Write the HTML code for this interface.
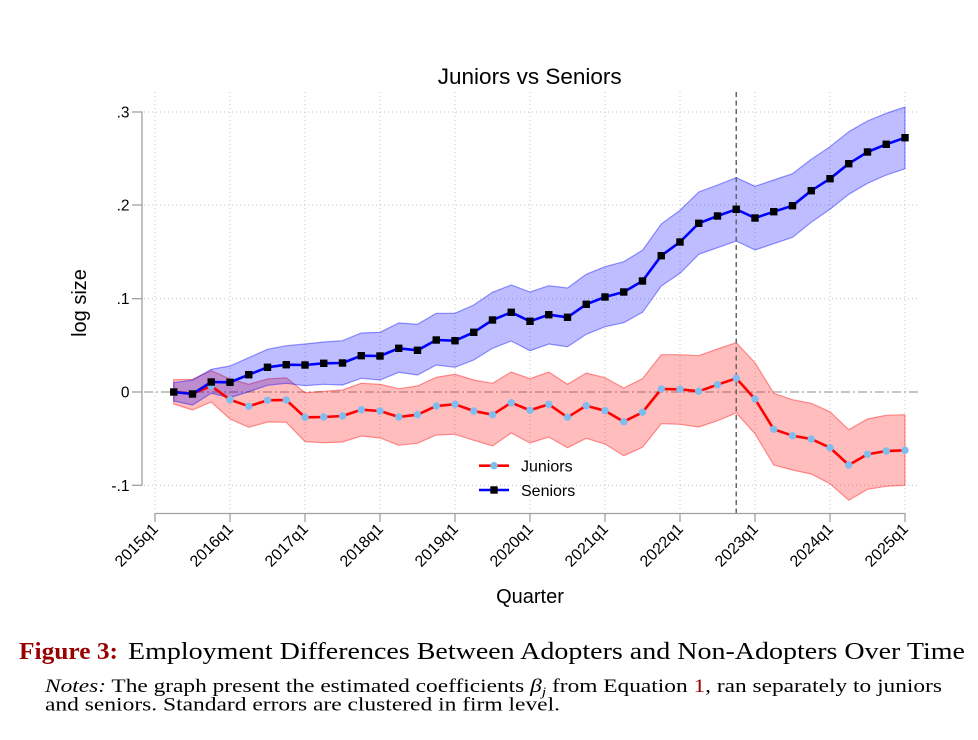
<!DOCTYPE html>
<html><head><meta charset="utf-8"><style>
html,body{margin:0;padding:0;background:#fff;}
svg{display:block;}
</style></head><body>
<svg width="978" height="740" viewBox="0 0 978 740" xmlns="http://www.w3.org/2000/svg">
<defs>
<marker id="mc" markerUnits="userSpaceOnUse" markerWidth="10" markerHeight="10" refX="5" refY="5"><circle cx="5" cy="5" r="3.7" fill="#7fbdee"/></marker>
<marker id="ms" markerUnits="userSpaceOnUse" markerWidth="10" markerHeight="10" refX="5" refY="5"><rect x="1.3" y="1.3" width="7.4" height="7.4" fill="#000"/></marker>
</defs>
<rect width="978" height="740" fill="#fff"/>
<g stroke="#c4c4c4" stroke-width="1" stroke-dasharray="1 3" fill="none">
<line x1="144" y1="112" x2="919" y2="112"/>
<line x1="144" y1="205" x2="919" y2="205"/>
<line x1="144" y1="298.7" x2="919" y2="298.7"/>
<line x1="144" y1="485.3" x2="919" y2="485.3"/>
<line x1="155" y1="92" x2="155" y2="512"/>
<line x1="230" y1="92" x2="230" y2="512"/>
<line x1="305" y1="92" x2="305" y2="512"/>
<line x1="380" y1="92" x2="380" y2="512"/>
<line x1="455" y1="92" x2="455" y2="512"/>
<line x1="530" y1="92" x2="530" y2="512"/>
<line x1="605" y1="92" x2="605" y2="512"/>
<line x1="680" y1="92" x2="680" y2="512"/>
<line x1="755" y1="92" x2="755" y2="512"/>
<line x1="830" y1="92" x2="830" y2="512"/>
<line x1="905" y1="92" x2="905" y2="512"/>
</g>
<line x1="144" y1="392" x2="919" y2="392" stroke="#b4b4b4" stroke-width="1.4" stroke-dasharray="9 3 2 3"/>
<polygon fill="rgba(255,0,0,0.26)" stroke="rgba(255,0,0,0.4)" stroke-width="1.2" points="173.75,379.7 192.5,379.3 211.25,370.7 230,379 248.75,384.3 267.5,379 286.25,377.7 305,392.7 323.75,391.3 342.5,390 361.25,383.3 380,384.3 398.75,388.7 417.5,386 436.25,377.3 455,374.3 473.75,380 492.5,383.3 511.25,372 530,378.7 548.75,372 567.5,384.3 586.25,373 605,377.7 623.75,388 642.5,378.7 661.25,354.7 680,354.7 698.75,355.7 717.5,349 736.25,342.7 755,362.7 773.75,393.3 792.5,399.7 811.25,403.3 830,411.7 848.75,429.7 867.5,419 886.25,415.3 905,414.7 905,485.3 886.25,486.3 867.5,489.3 848.75,500.3 830,483.7 811.25,474 792.5,470 773.75,465 755,433.7 736.25,413 717.5,420.7 698.75,427 680,424.3 661.25,423.7 642.5,447.3 623.75,455.7 605,444 586.25,438.3 567.5,447.7 548.75,437 530,443 511.25,433 492.5,446 473.75,440.3 455,434.3 436.25,435 417.5,443.3 398.75,445.3 380,438 361.25,436 342.5,442 323.75,442.7 305,441.7 286.25,422.3 267.5,422 248.75,427.3 230,419 211.25,402 192.5,410 173.75,404"/>
<polygon fill="rgba(0,0,255,0.26)" stroke="rgba(0,0,255,0.4)" stroke-width="1.2" points="173.75,382.7 192.5,380 211.25,369.3 230,366 248.75,357.7 267.5,349.3 286.25,345.7 305,344 323.75,342 342.5,340.7 361.25,333 380,332.3 398.75,323 417.5,324.3 436.25,313.3 455,313.3 473.75,305 492.5,292.3 511.25,285 530,292 548.75,285.7 567.5,288 586.25,274.3 605,266.7 623.75,261.7 642.5,250.3 661.25,224 680,210.3 698.75,192 717.5,185 736.25,177.7 755,186.3 773.75,180 792.5,173.7 811.25,159.3 830,146.7 848.75,131.7 867.5,121 886.25,113.3 905,107 905,168.7 886.25,175 867.5,183.3 848.75,194.3 830,209.3 811.25,222.3 792.5,237.3 773.75,243.7 755,250 736.25,241 717.5,247.7 698.75,254.3 680,273.3 661.25,286 642.5,312.3 623.75,322.7 605,326.7 586.25,334.3 567.5,346.7 548.75,344 530,350.7 511.25,341 492.5,348.3 473.75,360 455,367.3 436.25,365 417.5,375 398.75,372.3 380,380 361.25,378.3 342.5,385 323.75,384.3 305,385.7 286.25,383.3 267.5,385.3 248.75,391.7 230,397.7 211.25,393.3 192.5,405 173.75,401"/>
<line x1="736.25" y1="92" x2="736.25" y2="513" stroke="#666" stroke-width="1.5" stroke-dasharray="5 3.5"/>
<polyline fill="none" stroke="#ff0000" stroke-width="2.6" stroke-linejoin="round" marker-start="url(#mc)" marker-mid="url(#mc)" marker-end="url(#mc)" points="173.75,392 192.5,393.7 211.25,386 230,399.7 248.75,406.3 267.5,400.3 286.25,400 305,417.3 323.75,417 342.5,416 361.25,409.7 380,411 398.75,417 417.5,414.7 436.25,406 455,404.3 473.75,411 492.5,414.7 511.25,402.7 530,410.3 548.75,404.3 567.5,417.3 586.25,405.7 605,410.7 623.75,421.7 642.5,412.3 661.25,389 680,389.3 698.75,391.3 717.5,384.7 736.25,378.3 755,399 773.75,429.3 792.5,435.7 811.25,439 830,447.7 848.75,465 867.5,454.3 886.25,451 905,450.3"/>
<polyline fill="none" stroke="#0000ff" stroke-width="2.6" stroke-linejoin="round" marker-start="url(#ms)" marker-mid="url(#ms)" marker-end="url(#ms)" points="173.75,392 192.5,394 211.25,382 230,382.3 248.75,374.7 267.5,367.3 286.25,364.7 305,365 323.75,363.3 342.5,363 361.25,355.7 380,356 398.75,348.3 417.5,350.3 436.25,340 455,340.7 473.75,332.3 492.5,320 511.25,312.3 530,321.3 548.75,314.7 567.5,317.3 586.25,304.3 605,297 623.75,292 642.5,281 661.25,255.7 680,242 698.75,223.3 717.5,216 736.25,209.3 755,218 773.75,211.7 792.5,205.7 811.25,190.7 830,178.7 848.75,163.7 867.5,152 886.25,144.3 905,137.7"/>
<g stroke="#a0a0a0" stroke-width="1.3" fill="none">
<line x1="142" y1="111.5" x2="142" y2="485.8"/>
<line x1="132" y1="112" x2="142" y2="112"/>
<line x1="132" y1="205" x2="142" y2="205"/>
<line x1="132" y1="298.7" x2="142" y2="298.7"/>
<line x1="132" y1="392" x2="142" y2="392"/>
<line x1="132" y1="485.3" x2="142" y2="485.3"/>
<line x1="154.5" y1="513.5" x2="905.5" y2="513.5"/>
<line x1="155" y1="513.5" x2="155" y2="522"/>
<line x1="230" y1="513.5" x2="230" y2="522"/>
<line x1="305" y1="513.5" x2="305" y2="522"/>
<line x1="380" y1="513.5" x2="380" y2="522"/>
<line x1="455" y1="513.5" x2="455" y2="522"/>
<line x1="530" y1="513.5" x2="530" y2="522"/>
<line x1="605" y1="513.5" x2="605" y2="522"/>
<line x1="680" y1="513.5" x2="680" y2="522"/>
<line x1="755" y1="513.5" x2="755" y2="522"/>
<line x1="830" y1="513.5" x2="830" y2="522"/>
<line x1="905" y1="513.5" x2="905" y2="522"/>
</g>
<g font-family="'Liberation Sans', Arial, sans-serif" fill="#000">
<text x="529.7" y="84" font-size="22.5" text-anchor="middle">Juniors vs Seniors</text>
<g font-size="15.5" text-anchor="end">
<text x="129.5" y="117.5">.3</text>
<text x="129.5" y="210.5">.2</text>
<text x="129.5" y="304.2">.1</text>
<text x="129.5" y="397.5">0</text>
<text x="129.5" y="490.8">-.1</text>
</g>
<g font-size="16" text-anchor="end">
<text transform="translate(159,530) rotate(-45)">2015q1</text>
<text transform="translate(234,530) rotate(-45)">2016q1</text>
<text transform="translate(309,530) rotate(-45)">2017q1</text>
<text transform="translate(384,530) rotate(-45)">2018q1</text>
<text transform="translate(459,530) rotate(-45)">2019q1</text>
<text transform="translate(534,530) rotate(-45)">2020q1</text>
<text transform="translate(609,530) rotate(-45)">2021q1</text>
<text transform="translate(684,530) rotate(-45)">2022q1</text>
<text transform="translate(759,530) rotate(-45)">2023q1</text>
<text transform="translate(834,530) rotate(-45)">2024q1</text>
<text transform="translate(909,530) rotate(-45)">2025q1</text>
</g>
<text x="530" y="603" font-size="20" text-anchor="middle">Quarter</text>
<text transform="translate(86,303) rotate(-90)" font-size="20" text-anchor="middle">log size</text>
<line x1="479" y1="465.7" x2="509" y2="465.7" stroke="#ff0000" stroke-width="2.6"/>
<circle cx="494" cy="465.7" r="3.7" fill="#7fbdee"/>
<text x="521" y="471.5" font-size="16">Juniors</text>
<line x1="479" y1="490" x2="509" y2="490" stroke="#0000ff" stroke-width="2.6"/>
<rect x="490.3" y="486.3" width="7.4" height="7.4" fill="#000"/>
<text x="521" y="496" font-size="16">Seniors</text>
</g>
<g font-family="'Liberation Serif', 'Times New Roman', serif">
<text x="19" y="659" font-size="24" font-weight="bold" fill="#990000" textLength="99" lengthAdjust="spacingAndGlyphs">Figure 3:</text>
<text x="128" y="659" font-size="24" fill="#000" textLength="837" lengthAdjust="spacingAndGlyphs">Employment Differences Between Adopters and Non-Adopters Over Time</text>
<text x="45" y="692" font-size="19" fill="#000" textLength="897" lengthAdjust="spacingAndGlyphs"><tspan font-style="italic">Notes:</tspan> The graph present the estimated coefficients <tspan font-style="italic">β</tspan><tspan font-style="italic" font-size="13" dy="4">j</tspan><tspan dy="-4"> from Equation </tspan><tspan fill="#990000">1</tspan>, ran separately to juniors</text>
<text x="45" y="710.5" font-size="19" fill="#000" textLength="515" lengthAdjust="spacingAndGlyphs">and seniors. Standard errors are clustered in firm level.</text>
</g>
</svg>
</body></html>
